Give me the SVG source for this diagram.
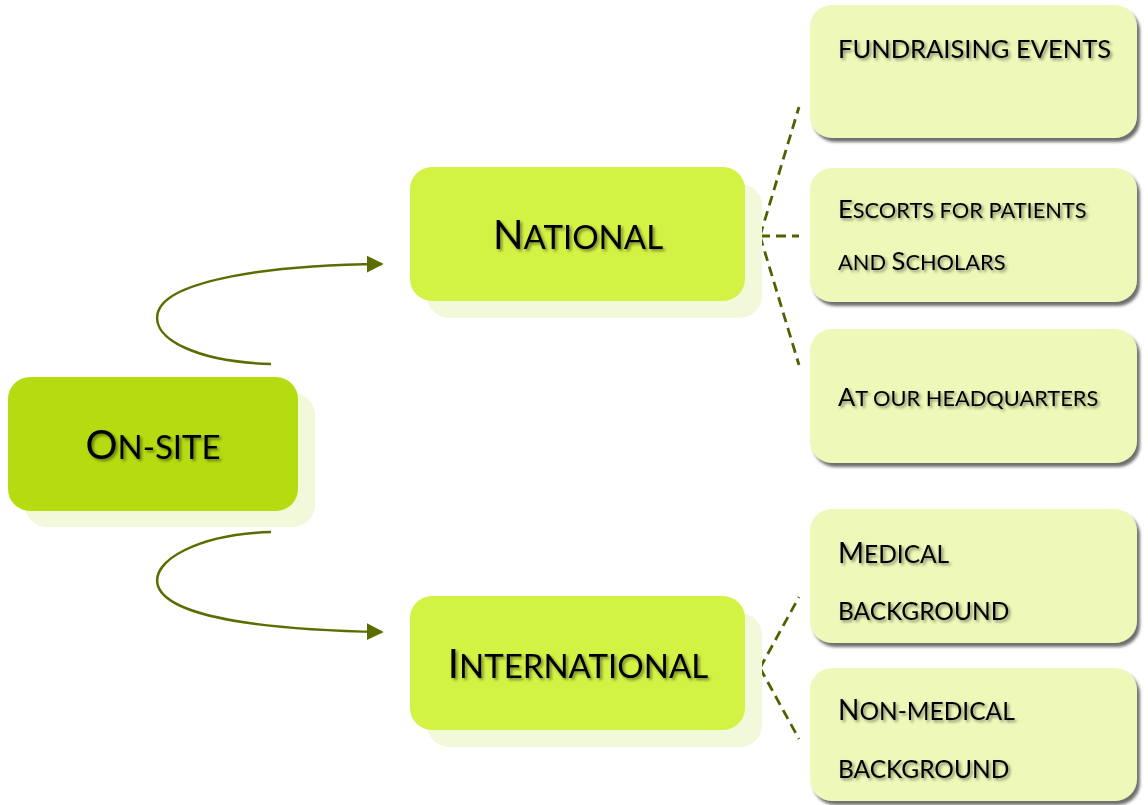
<svg xmlns="http://www.w3.org/2000/svg" width="1148" height="805" viewBox="0 0 1148 805">
<defs>
<filter id="ts" x="-10%" y="-30%" width="120%" height="160%">
<feDropShadow dx="2" dy="2" stdDeviation="1.5" flood-color="#000" flood-opacity="0.45"/>
</filter>
<filter id="bs" x="-5%" y="-5%" width="115%" height="115%">
<feDropShadow dx="3" dy="4" stdDeviation="1.5" flood-color="#555" flood-opacity="0.85"/>
</filter>
<marker id="ah" viewBox="0 0 10 10" refX="9" refY="5" markerWidth="17" markerHeight="17" markerUnits="userSpaceOnUse" orient="auto">
<path d="M0,0 L10,5 L0,10 Z" fill="#5a6e00"/>
</marker>
</defs>
<style>
.ghost{fill:#f2f8da}
.big text,.leaf text{font-family:Lato,"Open Sans","Liberation Sans",sans-serif;fill:#000}
.big text{filter:url(#ts)}
.leaf text{filter:url(#ts)}
.leafbox{fill:#eef8b8;filter:url(#bs)}
.cap{font-size:40px}
.sc{font-size:33px}
.lcap{font-size:25.5px}
.lsc{font-size:21.8px}
.bcap{font-size:28px}
.bsc{font-size:24.5px}
.curve{fill:none;stroke:#5a6e00;stroke-width:2.5}
.dash{fill:none;stroke:#4f6200;stroke-width:2.8;stroke-dasharray:10 6}
</style>
<rect width="1148" height="805" fill="#fff"/>
<g id="connectors">
<path class="curve" d="M271,364 C200,362 150,340 158,312 C168,280 270,265 382,264" marker-end="url(#ah)"/>
<path class="curve" d="M271,532 C200,534 150,560 158,586 C170,620 280,630 382,632" marker-end="url(#ah)"/>
<path class="dash" d="M760,236 L799,107"/>
<path class="dash" d="M760,236 L799,236"/>
<path class="dash" d="M760,236 L799,365"/>
<path class="dash" d="M760,668 L799,597"/>
<path class="dash" d="M760,668 L799,739"/>
</g>
<g id="onsite" class="big">
<rect class="ghost" x="25" y="393" width="290" height="134" rx="22"/>
<rect x="8" y="377" width="290" height="134" rx="22" fill="#b5dc11"/>
<text x="153" y="459" text-anchor="middle"><tspan class="cap">O</tspan><tspan class="sc">N-SITE</tspan></text>
</g>
<g id="national" class="big">
<rect class="ghost" x="427" y="184" width="335" height="134" rx="22"/>
<rect x="410" y="167" width="335" height="134" rx="22" fill="#d2f244"/>
<text x="578" y="249" text-anchor="middle"><tspan class="cap">N</tspan><tspan class="sc">ATIONAL</tspan></text>
</g>
<g id="international" class="big">
<rect class="ghost" x="427" y="613" width="335" height="134" rx="22"/>
<rect x="410" y="596" width="335" height="134" rx="22" fill="#d2f244"/>
<text x="578" y="678" text-anchor="middle"><tspan class="cap">I</tspan><tspan class="sc">NTERNATIONAL</tspan></text>
</g>
<g id="fundraising" class="leaf">
<rect class="leafbox" x="810" y="5" width="327" height="133" rx="22"/>
<text x="838" y="58" class="lcap">FUNDRAISING EVENTS</text>
</g>
<g id="escorts" class="leaf">
<rect class="leafbox" x="810" y="168" width="327" height="134" rx="22"/>
<text x="838" y="218"><tspan class="lcap">E</tspan><tspan class="lsc">SCORTS FOR PATIENTS</tspan></text>
<text x="838" y="270"><tspan class="lsc">AND </tspan><tspan class="lcap">S</tspan><tspan class="lsc">CHOLARS</tspan></text>
</g>
<g id="headquarters" class="leaf">
<rect class="leafbox" x="810" y="329" width="327" height="134" rx="22"/>
<text x="838" y="406"><tspan class="lcap">A</tspan><tspan class="lsc">T OUR HEADQUARTERS</tspan></text>
</g>
<g id="medical" class="leaf">
<rect class="leafbox" x="810" y="509" width="327" height="134" rx="22"/>
<text x="838" y="563"><tspan class="bcap">M</tspan><tspan class="bsc">EDICAL</tspan></text>
<text x="838" y="620"><tspan class="bsc">BACKGROUND</tspan></text>
</g>
<g id="nonmedical" class="leaf">
<rect class="leafbox" x="810" y="668" width="327" height="133" rx="22"/>
<text x="838" y="720"><tspan class="bcap">N</tspan><tspan class="bsc">ON-MEDICAL</tspan></text>
<text x="838" y="778"><tspan class="bsc">BACKGROUND</tspan></text>
</g>
</svg>
